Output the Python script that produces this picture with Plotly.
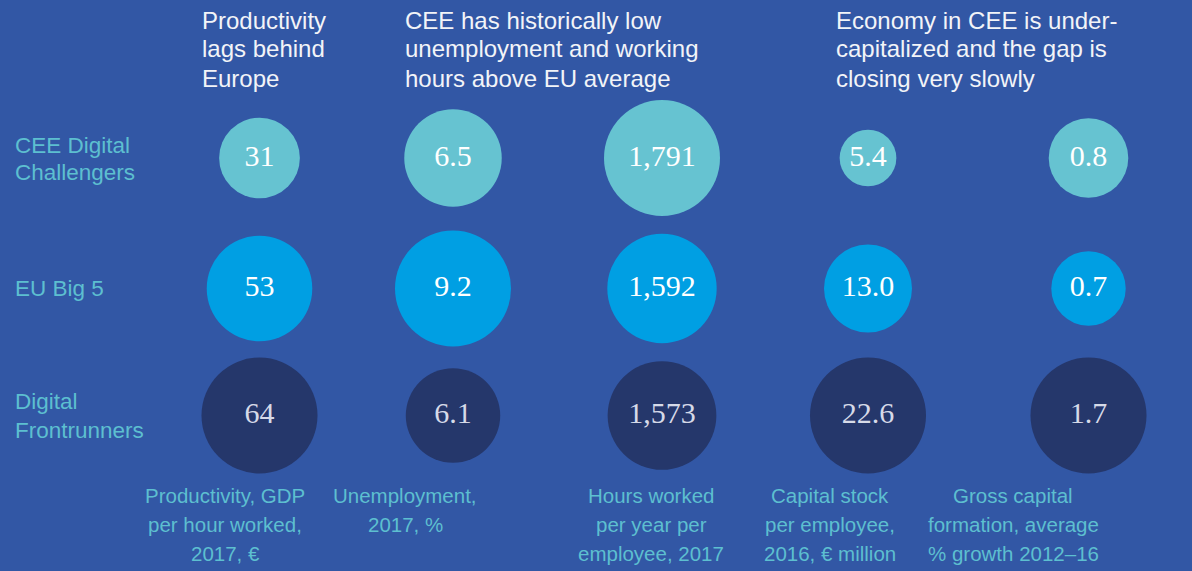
import plotly.graph_objects as go

# ---- data ----
groups = ["CEE Digital<br>Challengers", "EU Big 5", "Digital<br>Frontrunners"]
metrics = [
    "Productivity, GDP<br>per hour worked,<br>2017, €",
    "Unemployment,<br>2017, %",
    "Hours worked<br>per year per<br>employee, 2017",
    "Capital stock<br>per employee,<br>2016, € million",
    "Gross capital<br>formation, average<br>% growth 2012–16",
]
cee_challengers = [31, 6.5, 1791, 5.4, 0.8]
eu_big5 = [53, 9.2, 1592, 13.0, 0.7]
digital_frontrunners = [64, 6.1, 1573, 22.6, 1.7]
value_formats = ["{:.0f}", "{:.1f}", "{:,.0f}", "{:.1f}", "{:.1f}"]
headlines = [
    "Productivity<br>lags behind<br>Europe",
    "CEE has historically low<br>unemployment and working<br>hours above EU average",
    "Economy in CEE is under-<br>capitalized and the gap is<br>closing very slowly",
]

# ---- layout / style ----
W, H = 1192, 571
BG = "#3257A5"
bubble_colors = ["#66C3D1", "#009FE3", "#25376B"]
number_colors = ["#FFFFFF", "#FFFFFF", "#D6DAE8"]
label_teal = "#5DBFD0"
sans = "Liberation Sans"
serif = "Liberation Serif"

col_x = [259.5, 453, 662, 868, 1088.5]
row_y = [158, 288.5, 415.5]
max_diam = 116
label_x = [225, 405, 651, 830, 1013]
label_y = [495, 524, 553]
head_x = [200, 403, 834]
head_y = [20, 48.5, 78]
row_label_y = [[145, 172.5], [288], [401, 430]]

series = [cee_challengers, eu_big5, digital_frontrunners]
col_max = [max(s[i] for s in series) for i in range(len(metrics))]

fig = go.Figure()
for g, vals in enumerate(series):
    diam = [max_diam * (v / col_max[i]) ** 0.5 for i, v in enumerate(vals)]
    fig.add_trace(go.Scatter(
        x=col_x, y=[row_y[g]] * len(vals),
        mode="markers+text",
        marker=dict(size=diam, sizemode="diameter", color=bubble_colors[g],
                    line=dict(width=0), opacity=1),
        text=[value_formats[i].format(v) for i, v in enumerate(vals)],
        textposition="middle center",
        textfont=dict(family=serif, size=30, color=number_colors[g]),
        hoverinfo="skip", showlegend=False,
    ))


def add_lines(text, x, ys, size, color, xanchor):
    for line, y in zip(text.split("<br>"), ys):
        fig.add_annotation(x=x, y=y, text=line, showarrow=False,
                           xanchor=xanchor, yanchor="middle",
                           font=dict(family=sans, size=size, color=color))


for h, x in zip(headlines, head_x):
    add_lines(h, x, head_y, 24, "#F2F4F8", "left")
for g, ys in zip(groups, row_label_y):
    add_lines(g, 13, ys, 22.5, label_teal, "left")
for m, x in zip(metrics, label_x):
    add_lines(m, x, label_y, 20.5, label_teal, "center")

fig.update_layout(
    width=W, height=H,
    margin=dict(l=0, r=0, t=0, b=0),
    paper_bgcolor=BG, plot_bgcolor=BG,
    xaxis=dict(range=[0, W], visible=False, fixedrange=True),
    yaxis=dict(range=[H, 0], visible=False, fixedrange=True),
)

fig.write_html(
    "out.html",
    config={"displayModeBar": False},
    post_script="document.body.style.margin='0';"
                "document.body.style.background='" + BG + "';"
                "document.body.style.overflow='hidden';",
)
